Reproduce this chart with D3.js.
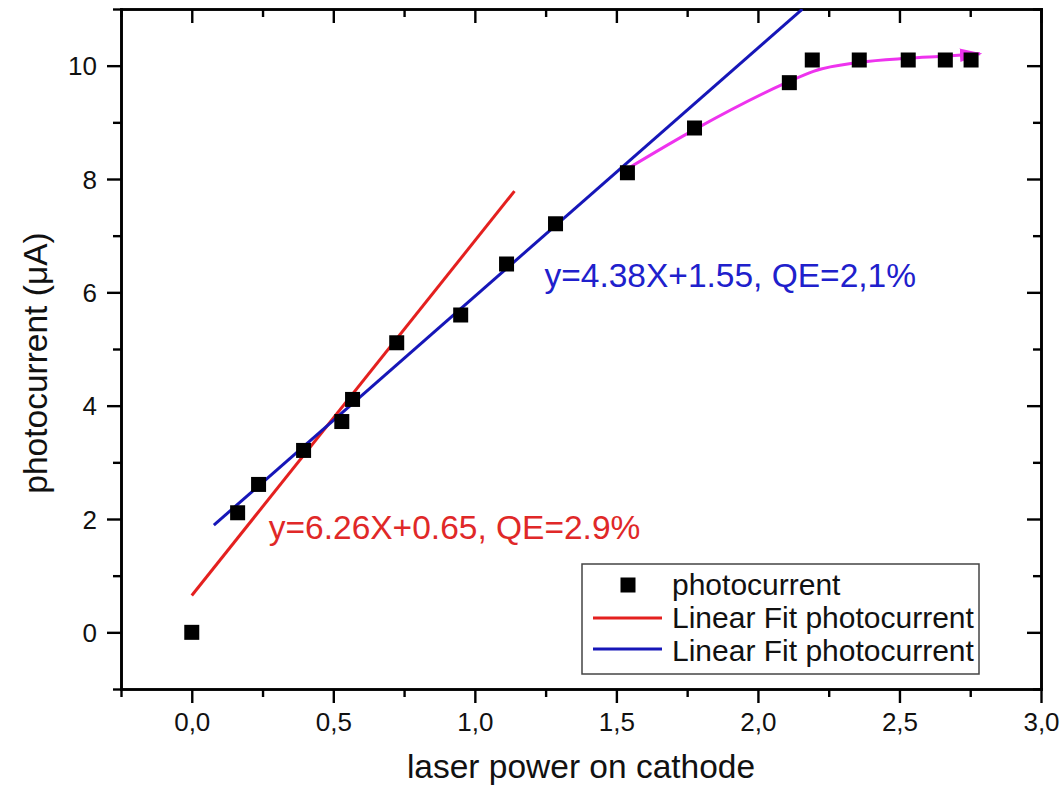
<html>
<head>
<script src="https://d3js.org/d3.v7.min.js"></script>
<style>
  body { margin: 0; background: #fff; }
  svg text { font-family: "Liberation Sans", Arial, sans-serif; }
</style>
</head>
<body>
<div id="chart"></div>
<script>
// measured points: laser power on cathode vs photocurrent (uA)
const power   = [0, 0.162, 0.236, 0.395, 0.53, 0.568, 0.724, 0.95, 1.112, 1.285, 1.539, 1.776, 2.111, 2.192, 2.358, 2.531, 2.662, 2.753];
const current = [0, 2.11, 2.61, 3.21, 3.72, 4.11, 5.11, 5.60, 6.50, 7.21, 8.11, 8.90, 9.70, 10.10, 10.10, 10.10, 10.10, 10.10];

// linear fits
const redFit  = { slope: 6.26, intercept: 0.65, from: 0, to: 1.14 };
const blueFit = { slope: 4.38, intercept: 1.55, from: 0.078, to: 2.157 };

// saturation trend (hand drawn arrow)
const trendX = [1.539, 1.779, 2.097, 2.196, 2.361, 2.527, 2.669, 2.785];
const trendY = [8.18, 8.88, 9.69, 9.90, 10.06, 10.13, 10.17, 10.21];

const xMajor = [0, 0.5, 1.0, 1.5, 2.0, 2.5, 3.0];
const xMinor = [-0.25, 0.25, 0.75, 1.25, 1.75, 2.25, 2.75];
const yMajor = [0, 2, 4, 6, 8, 10];
const yMinor = [-1, 1, 3, 5, 7, 9, 11];

const legendLabels = ["photocurrent", "Linear Fit photocurrent", "Linear Fit photocurrent"];

const W = 1063, H = 795;
const margin = { left: 121, top: 9, right: 22, bottom: 106 };
const w = W - margin.left - margin.right;
const h = H - margin.top - margin.bottom;

const red = "#e4201f", blue = "#1616b8", magenta = "#ee33ee";

const svg = d3.select("#chart").append("svg")
    .attr("width", W)
    .attr("height", H);

const x = d3.scaleLinear().domain([-0.25, 3.0]).range([0, w]);
const y = d3.scaleLinear().domain([-1, 11]).range([h, 0]);

const defs = svg.append("defs");
defs.append("clipPath").attr("id", "clip")
    .append("rect").attr("width", w).attr("height", h);

const g = svg.append("g").attr("transform", `translate(${margin.left},${margin.top})`);

const fmt = d => d3.format(".1f")(d).replace(".", ",");

// axes: bottom/left ticks outward, top/right inward
function axisSet(axisFn, scale, major, minor, labels) {
    const a = axisFn(scale).tickValues(major).tickSizeInner(14).tickSizeOuter(0).tickPadding(8);
    if (labels) a.tickFormat(labels); else a.tickFormat("");
    const m = axisFn(scale).tickValues(minor).tickSizeInner(8).tickSizeOuter(0).tickFormat("");
    return [a, m];
}

function styleAxis(sel) {
    sel.selectAll("path").attr("stroke", "#000").attr("stroke-width", 2.6).attr("stroke-linecap", "square");
    sel.selectAll("line").attr("stroke", "#000").attr("stroke-width", 2.4);
    sel.selectAll("text").attr("font-size", 26).attr("fill", "#111");
}

const [xb, xbm] = axisSet(d3.axisBottom, x, xMajor, xMinor, fmt);
const [yl, ylm] = axisSet(d3.axisLeft, y, yMajor, yMinor, d3.format("d"));
const [xt, xtm] = axisSet(d3.axisBottom, x, xMajor, xMinor, null);
const [yr, yrm] = axisSet(d3.axisLeft, y, yMajor, yMinor, null);

const xAxisG = g.append("g").attr("transform", `translate(0,${h})`).call(xb).call(styleAxis);
g.append("g").attr("transform", `translate(0,${h})`).call(xbm).call(styleAxis);
const yAxisG = g.append("g").call(yl).call(styleAxis);
g.append("g").call(ylm).call(styleAxis);
// top axis: ticks point down into the plot
g.append("g").call(xt).call(styleAxis);
g.append("g").call(xtm).call(styleAxis);
// right axis: ticks point left into the plot
g.append("g").attr("transform", `translate(${w},0)`).call(yr).call(styleAxis);
g.append("g").attr("transform", `translate(${w},0)`).call(yrm).call(styleAxis);

g.selectAll(".tick text").filter(function() { return this.textContent === ""; }).remove();

xAxisG.selectAll(".tick text").attr("dy", null).attr("y", 42);
yAxisG.selectAll(".tick text").attr("dy", null).attr("x", -24).attr("dominant-baseline", "central");

// fit lines
const plot = g.append("g").attr("clip-path", "url(#clip)");
const line = d3.line().x(d => x(d[0])).y(d => y(d[1]));

[[redFit, red], [blueFit, blue]].forEach(([f, c]) => {
    plot.append("path")
        .datum([[f.from, f.slope * f.from + f.intercept], [f.to, f.slope * f.to + f.intercept]])
        .attr("d", line)
        .attr("fill", "none")
        .attr("stroke", c)
        .attr("stroke-width", 3);
});

// trend arrow
defs.append("marker")
    .attr("id", "arrow")
    .attr("viewBox", "0 0 20 12")
    .attr("refX", 18).attr("refY", 6)
    .attr("markerWidth", 7.5).attr("markerHeight", 4.5)
    .attr("markerUnits", "strokeWidth")
    .attr("orient", "auto")
    .append("path").attr("d", "M0,0 L20,6 L0,12 Z").attr("fill", magenta);

const curve = d3.line().x(d => x(d[0])).y(d => y(d[1])).curve(d3.curveMonotoneX);
g.append("path")
    .datum(trendX.map((v, i) => [v, trendY[i]]))
    .attr("d", curve)
    .attr("fill", "none")
    .attr("stroke", magenta)
    .attr("stroke-width", 3)
    .attr("marker-end", "url(#arrow)");

// data squares
const sq = 15;
g.selectAll(".pt")
    .data(power.map((p, i) => [p, current[i]]))
    .join("rect")
    .attr("class", "pt")
    .attr("x", d => x(d[0]) - sq / 2)
    .attr("y", d => y(d[1]) - sq / 2)
    .attr("width", sq)
    .attr("height", sq)
    .attr("fill", "#000");

// annotations
g.append("text")
    .attr("x", x(1.246)).attr("y", y(6.10))
    .attr("font-size", 33.5)
    .attr("fill", "#2020cc")
    .text("y=4.38X+1.55, QE=2,1%");

g.append("text")
    .attr("x", x(0.272)).attr("y", y(1.64))
    .attr("font-size", 33.5)
    .attr("fill", "#e02828")
    .text("y=6.26X+0.65, QE=2.9%");

// legend
const lg = svg.append("g").attr("transform", "translate(582,564)");
lg.append("rect")
    .attr("width", 397).attr("height", 110)
    .attr("fill", "#fff")
    .attr("stroke", "#444")
    .attr("stroke-width", 1.5);

lg.append("rect").attr("x", 46 - sq / 2).attr("y", 21 - sq / 2).attr("width", sq).attr("height", sq).attr("fill", "#000");
lg.append("line").attr("x1", 11).attr("x2", 80).attr("y1", 54).attr("y2", 54).attr("stroke", red).attr("stroke-width", 3);
lg.append("line").attr("x1", 11).attr("x2", 80).attr("y1", 85).attr("y2", 85).attr("stroke", blue).attr("stroke-width", 3);

lg.selectAll(".lt")
    .data(legendLabels)
    .join("text")
    .attr("class", "lt")
    .attr("x", 90)
    .attr("y", (d, i) => 31 + i * 33)
    .attr("font-size", 30)
    .attr("fill", "#111")
    .text(d => d);

// axis titles
svg.append("text")
    .attr("x", 581).attr("y", 778)
    .attr("text-anchor", "middle")
    .attr("font-size", 33.5)
    .attr("fill", "#111")
    .text("laser power on cathode");

svg.append("text")
    .attr("transform", "translate(47,363) rotate(-90)")
    .attr("text-anchor", "middle")
    .attr("font-size", 33.5)
    .attr("fill", "#111")
    .text("photocurrent (\u03bcA)");
</script>
</body>
</html>
